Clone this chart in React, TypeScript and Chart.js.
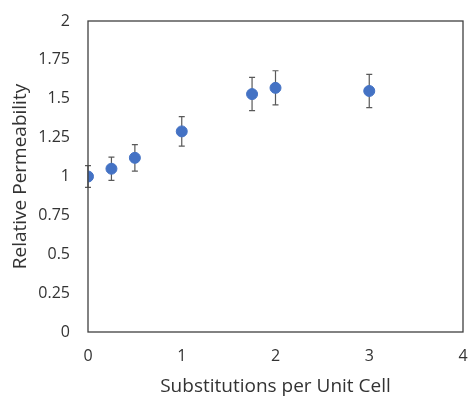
import React, { useEffect, useRef } from "react";
import { Chart, registerables } from "chart.js";

Chart.register(...registerables);

// Substitutions per unit cell and measured relative permeability
const substitutions = [0, 0.25, 0.5, 1, 1.75, 2, 3];
const permeability = [1.0, 1.05, 1.12, 1.29, 1.53, 1.57, 1.55];
const errorMargin = [0.07, 0.075, 0.085, 0.095, 0.107, 0.11, 0.107];

const xTicks = [0, 1, 2, 3, 4];
const yTicks = [0, 0.25, 0.5, 0.75, 1, 1.25, 1.5, 1.75, 2];

const FONT = "'Open Sans', 'Noto Sans', sans-serif";
const INK = "#333333";

// Vertical error bars with caps, plus a full frame around the plot area
const errorBarsPlugin = {
  id: "errorBars",
  beforeDatasetsDraw(chart: any) {
    const { ctx, scales } = chart;
    const xs = scales.x;
    const ys = scales.y;
    ctx.save();
    ctx.strokeStyle = "#595959";
    ctx.lineWidth = 1.2;
    substitutions.forEach((xv, i) => {
      const px = xs.getPixelForValue(xv);
      const top = ys.getPixelForValue(permeability[i] + errorMargin[i]);
      const bot = ys.getPixelForValue(permeability[i] - errorMargin[i]);
      ctx.beginPath();
      ctx.moveTo(px, top);
      ctx.lineTo(px, bot);
      ctx.moveTo(px - 3, top);
      ctx.lineTo(px + 3, top);
      ctx.moveTo(px - 3, bot);
      ctx.lineTo(px + 3, bot);
      ctx.stroke();
    });
    ctx.restore();
  },
  afterDraw(chart: any) {
    const { ctx, chartArea } = chart;
    ctx.save();
    ctx.strokeStyle = "#404040";
    ctx.lineWidth = 1.3;
    ctx.strokeRect(
      chartArea.left,
      chartArea.top,
      chartArea.right - chartArea.left,
      chartArea.bottom - chartArea.top
    );
    ctx.restore();
  },
};

export default function App() {
  const canvasRef = useRef<HTMLCanvasElement | null>(null);

  useEffect(() => {
    if (!canvasRef.current) return;
    const chart = new Chart(canvasRef.current, {
      type: "scatter",
      data: {
        datasets: [
          {
            data: substitutions.map((x, i) => ({ x, y: permeability[i] })),
            backgroundColor: "#4472C4",
            borderColor: "#4472C4",
            pointRadius: 5.5,
            pointHoverRadius: 5.5,
          },
        ],
      },
      options: {
        animation: false,
        responsive: false,
        maintainAspectRatio: false,
        layout: { padding: { top: 21, right: 7, left: 0, bottom: 0 } },
        plugins: {
          legend: { display: false },
          tooltip: { enabled: false },
        },
        scales: {
          x: {
            type: "linear",
            min: 0,
            max: 4,
            afterBuildTicks: (scale: any) => {
              scale.ticks = xTicks.map((v) => ({ value: v }));
            },
            afterFit: (scale: any) => {
              scale.height = 64;
              scale.paddingLeft = 0;
              scale.paddingRight = 0;
            },
            grid: { display: false, drawTicks: false },
            border: { display: false },
            ticks: {
              padding: 15,
              color: INK,
              font: { family: FONT, size: 16 },
              maxRotation: 0,
              callback: (v: any) => String(v),
            },
            title: {
              display: true,
              text: "Substitutions per Unit Cell",
              color: INK,
              font: { family: FONT, size: 19 },
              padding: { top: 4, bottom: -2 },
            },
          },
          y: {
            type: "linear",
            min: 0,
            max: 2,
            afterBuildTicks: (scale: any) => {
              scale.ticks = yTicks.map((v) => ({ value: v }));
            },
            afterFit: (scale: any) => {
              scale.width = 88;
              scale.paddingTop = 0;
              scale.paddingBottom = 0;
            },
            grid: { display: false, drawTicks: false },
            border: { display: false },
            ticks: {
              padding: 18,
              color: INK,
              font: { family: FONT, size: 16 },
              callback: (v: any) => String(v),
            },
            title: {
              display: true,
              text: "Relative Permeability",
              color: INK,
              font: { family: FONT, size: 19 },
              padding: { top: 9, bottom: 2 },
            },
          },
        },
      },
      plugins: [errorBarsPlugin],
    });
    return () => chart.destroy();
  }, []);

  return (
    <div style={{ position: "fixed", left: 0, top: 0, width: 470, height: 396, background: "#fff" }}>
      <canvas ref={canvasRef} width={470} height={396} style={{ width: 470, height: 396 }} />
    </div>
  );
}
